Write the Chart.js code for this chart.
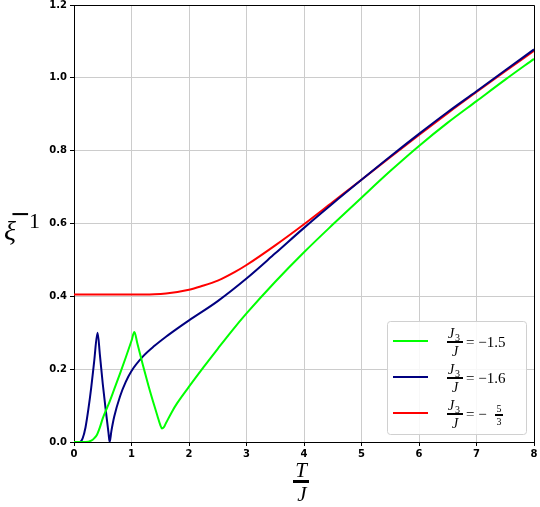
<!DOCTYPE html>
<html>
<head>
<meta charset="utf-8">
<script src="https://cdn.jsdelivr.net/npm/chart.js@4.4.0/dist/chart.umd.min.js"></script>
<style>
body{margin:0;background:#fff}
</style>
</head>
<body>
<canvas id="grafica" width="540" height="507"></canvas>
<script>
// values: T/J and inverse correlation length
var tGreen = [0, 0.1, 0.2, 0.3, 0.35, 0.4, 0.45, 0.5, 0.55, 0.6, 0.7, 0.8, 0.9, 1.0, 1.05, 1.1, 1.2, 1.3, 1.4, 1.45, 1.5, 1.53, 1.56, 1.6, 1.7, 1.8, 2.0, 2.25, 2.5, 2.75, 3.0, 3.5, 4.0, 4.5, 5.0, 5.5, 6.0, 6.5, 7.0, 7.5, 8.0];
var yGreen = [0, 0, 0, 0.004, 0.01, 0.02, 0.04, 0.065, 0.085, 0.103, 0.145, 0.188, 0.232, 0.278, 0.302, 0.272, 0.21, 0.152, 0.098, 0.072, 0.047, 0.037, 0.04, 0.052, 0.082, 0.108, 0.152, 0.205, 0.256, 0.306, 0.353, 0.44, 0.521, 0.597, 0.671, 0.744, 0.813, 0.877, 0.936, 0.995, 1.052];

var tBlue = [0, 0.1, 0.15, 0.2, 0.25, 0.3, 0.35, 0.41, 0.45, 0.5, 0.55, 0.6, 0.62, 0.65, 0.7, 0.8, 0.9, 1.0, 1.2, 1.4, 1.6, 1.8, 2.0, 2.5, 3.0, 3.5, 4.0, 4.5, 5.0, 5.5, 6.0, 6.5, 7.0, 7.5, 8.0];
var yBlue = [0, 0, 0.01, 0.04, 0.09, 0.15, 0.22, 0.30, 0.24, 0.16, 0.09, 0.025, 0, 0.03, 0.07, 0.125, 0.165, 0.195, 0.235, 0.264, 0.289, 0.312, 0.334, 0.387, 0.449, 0.518, 0.588, 0.655, 0.72, 0.784, 0.846, 0.906, 0.963, 1.021, 1.078];

var tRed = [0, 0.5, 1.0, 1.4, 1.6, 1.8, 2.0, 2.2, 2.5, 2.8, 3.0, 3.5, 4.0, 4.5, 5.0, 5.5, 6.0, 6.5, 7.0, 7.5, 8.0];
var yRed = [0.405, 0.405, 0.405, 0.406, 0.408, 0.412, 0.418, 0.427, 0.443, 0.467, 0.486, 0.54, 0.598, 0.659, 0.72, 0.782, 0.843, 0.903, 0.961, 1.018, 1.074];

var xTicks = [0, 1, 2, 3, 4, 5, 6, 7, 8];
var yTicks = [0, 0.2, 0.4, 0.6, 0.8, 1.0, 1.2];
var legendValues = ["1.5", "1.6", "5/3"];
var colores = ["#00ff00", "#000080", "#ff0000"];

function puntos(ts, ys)
{
  return ts.map(function(t, i){ return {x: t, y: ys[i]}; });
}

var mathFont = "'Liberation Serif', 'DejaVu Serif', serif";

// titles, frame and the fraction legend are drawn by hand
var extras = {
  id: 'extras',
  afterDraw: function(chart)
  {
    var ctx = chart.ctx;
    var a = chart.chartArea;
    ctx.save();
    ctx.strokeStyle = '#000';
    ctx.lineWidth = 1;
    ctx.beginPath();
    ctx.moveTo(a.left, a.top + 0.5);
    ctx.lineTo(a.right + 0.5, a.top + 0.5);
    ctx.lineTo(a.right + 0.5, a.bottom);
    ctx.stroke();

    // y title: xi^-1
    ctx.fillStyle = '#000';
    ctx.textBaseline = 'alphabetic';
    ctx.textAlign = 'left';
    ctx.font = "italic 28px " + mathFont;
    ctx.fillText("ξ", 4, 240);
    ctx.font = "25px 'DejaVu Sans'";
    ctx.fillText("−", 10, 222);
    ctx.font = "22px " + mathFont;
    ctx.fillText("1", 29, 228);

    // x title: T / J
    var cx = 301;
    ctx.textAlign = 'center';
    ctx.font = "italic 21px " + mathFont;
    ctx.fillText("T", cx, 477);
    ctx.fillRect(cx - 8, 480, 16, 3);
    ctx.fillText("J", cx + 1, 501);

    // legend
    var lx = 387, ly = 321, lw = 139, lh = 113;
    ctx.fillStyle = 'rgba(255,255,255,0.85)';
    ctx.strokeStyle = '#d0d0d0';
    ctx.beginPath();
    ctx.roundRect(lx + 0.5, ly + 0.5, lw, lh, 3);
    ctx.fill();
    ctx.stroke();
    for (var i = 0; i < 3; i++)
    {
      var cy = 341 + 36 * i;
      ctx.strokeStyle = colores[i];
      ctx.lineWidth = 2;
      ctx.beginPath();
      ctx.moveTo(393, cy);
      ctx.lineTo(428, cy);
      ctx.stroke();

      ctx.fillStyle = '#000';
      ctx.textAlign = 'left';
      ctx.font = "italic 14px " + mathFont;
      ctx.fillText("J", 448, cy - 3);
      ctx.font = "10px " + mathFont;
      ctx.fillText("3", 455, cy);
      ctx.fillRect(447, cy, 16, 2);
      ctx.font = "italic 14px " + mathFont;
      ctx.fillText("J", 452, cy + 15);
      ctx.font = "15px " + mathFont;
      if (legendValues[i].indexOf("/") < 0)
      {
        ctx.fillText("= −" + legendValues[i], 466, cy + 6);
      }
      else
      {
        var parts = legendValues[i].split("/");
        ctx.fillText("= −", 466, cy + 6);
        ctx.font = "10px " + mathFont;
        ctx.textAlign = 'center';
        ctx.fillText(parts[0], 499, cy - 1);
        ctx.fillRect(495, cy + 1, 8, 2);
        ctx.fillText(parts[1], 499, cy + 12);
      }
    }
    ctx.restore();
  }
};

var graph = document.getElementById("grafica");
var chart = new Chart(graph, {
  type: 'scatter',
  data: {
    datasets: [{
      label: 'J3/J = -1.5',
      data: puntos(tGreen, yGreen),
      borderColor: colores[0]
    }, {
      label: 'J3/J = -1.6',
      data: puntos(tBlue, yBlue),
      borderColor: colores[1]
    }, {
      label: 'J3/J = -5/3',
      data: puntos(tRed, yRed),
      borderColor: colores[2]
    }]
  },
  options: {
    responsive: false,
    animation: false,
    devicePixelRatio: 1,
    layout: { padding: { top: 5, right: 6, left: 0, bottom: 0 } },
    datasets: {
      scatter: {
        showLine: true,
        pointRadius: 0,
        borderWidth: 2,
        cubicInterpolationMode: 'monotone'
      }
    },
    plugins: {
      legend: { display: false },
      tooltip: { enabled: false }
    },
    scales: {
      x: {
        type: 'linear',
        min: 0,
        max: 8,
        afterBuildTicks: function(s){ s.ticks = xTicks.map(function(v){ return {value: v}; }); },
        afterFit: function(s){ s.height = 65; s.paddingLeft = 0; s.paddingRight = 0; },
        grid: { color: '#cccccc', tickColor: '#000', tickLength: 4 },
        border: { color: '#000', width: 1 },
        ticks: {
          color: '#000',
          padding: 2,
          maxRotation: 0,
          font: { family: 'DejaVu Sans', size: 10, weight: 'bold' }
        }
      },
      y: {
        min: 0,
        max: 1.2,
        afterBuildTicks: function(s){ s.ticks = yTicks.map(function(v){ return {value: v}; }); },
        afterFit: function(s){ s.width = 74; s.paddingTop = 0; s.paddingBottom = 0; },
        grid: { color: '#cccccc', tickColor: '#000', tickLength: 4 },
        border: { color: '#000', width: 1 },
        ticks: {
          color: '#000',
          padding: 3,
          callback: function(v){ return v.toFixed(1); },
          font: { family: 'DejaVu Sans', size: 10, weight: 'bold' }
        }
      }
    }
  },
  plugins: [extras]
});
</script>
</body>
</html>
